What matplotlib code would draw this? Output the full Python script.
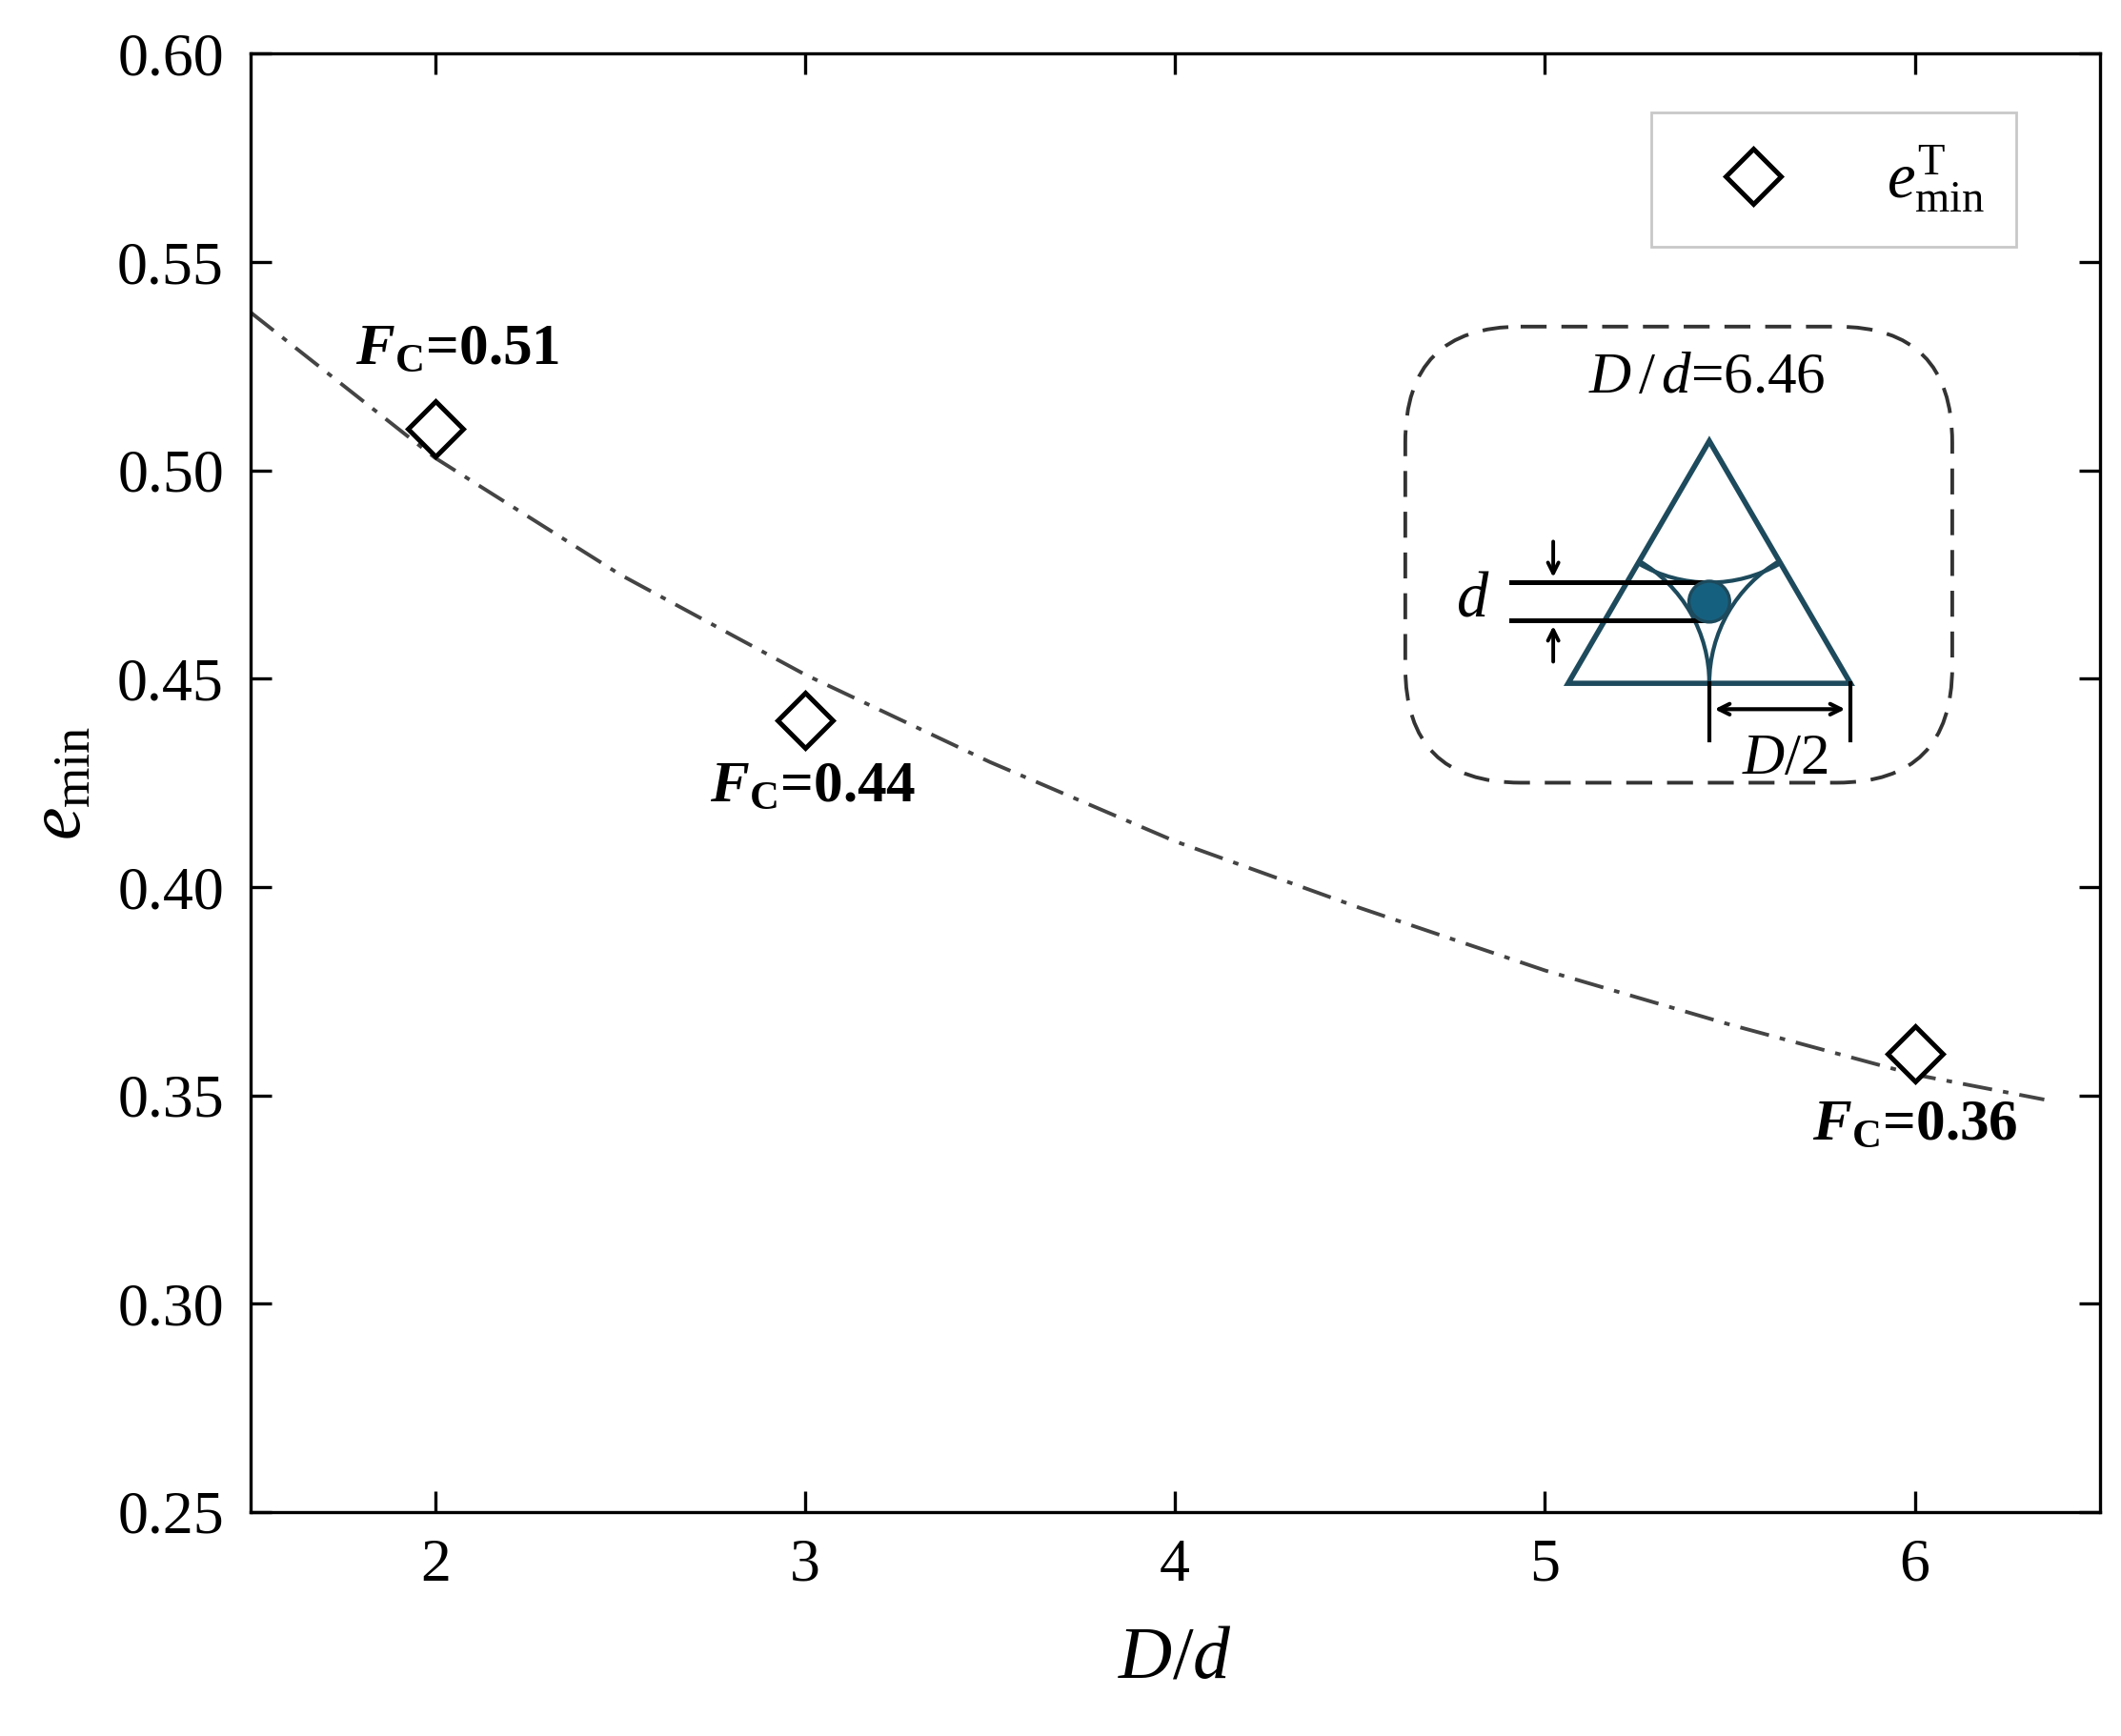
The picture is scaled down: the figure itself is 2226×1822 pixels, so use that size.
import numpy as np
import matplotlib
matplotlib.use('Agg')
import matplotlib.pyplot as plt
from matplotlib.patches import FancyBboxPatch, Polygon, Circle, Arc

plt.rcParams['font.family'] = ['Liberation Serif', 'DejaVu Serif']
plt.rcParams['mathtext.fontset'] = 'custom'
plt.rcParams['mathtext.rm'] = 'Liberation Serif'
plt.rcParams['mathtext.it'] = 'Liberation Serif:italic'
plt.rcParams['mathtext.bf'] = 'Liberation Serif:bold'
plt.rcParams['mathtext.bfit'] = 'Liberation Serif:italic:bold'

# data
pts_x = [2, 3, 6]
pts_y = [0.51, 0.44, 0.36]
fc_labels = ['0.51', '0.44', '0.36']
fc_pos = [(2.06, 0.529), (3.02, 0.424), (6.0, 0.343)]
fit_x = [1.5, 2.0, 2.5, 3.0, 3.5, 4.0, 4.5, 5.0, 5.5, 6.0, 6.35]
fit_y = [0.538, 0.503, 0.475, 0.451, 0.430, 0.411, 0.395, 0.380, 0.367, 0.355, 0.349]
xticks = [2, 3, 4, 5, 6]
yticks = [0.25, 0.30, 0.35, 0.40, 0.45, 0.50, 0.55, 0.60]

fig = plt.figure(figsize=(11.13, 9.11), dpi=200)
ax = fig.add_axes([0.118, 0.129, 0.872, 0.840])

ax.plot(fit_x, fit_y, color='#444444', lw=1.4, ls=(0, (8, 3, 1.5, 3)))
ax.plot(pts_x, pts_y, ls='none', marker='D', ms=15, mfc='white', mec='black',
        mew=1.8, label=r'$e_{\mathrm{min}}^{\mathrm{T}}$')
for (tx, ty), lab in zip(fc_pos, fc_labels):
    ax.text(tx, ty, r'$\mathbfit{F}_{\mathbf{C}}$' + '=' + lab, ha='center', va='center',
            fontsize=22, fontweight='bold')

ax.set_xlim(1.5, 6.5)
ax.set_ylim(0.25, 0.60)
ax.set_xticks(xticks)
ax.set_yticks(yticks)
ax.set_yticklabels([f'{v:.2f}' for v in yticks])
ax.tick_params(direction='in', length=8, width=1.2, labelsize=23, top=True, right=True,
               pad=10)
for s in ax.spines.values():
    s.set_linewidth(1.2)
ax.set_xlabel(r'$D/d$', fontsize=28, labelpad=12)
ax.set_ylabel(r'$e_{\mathrm{min}}$', fontsize=28, labelpad=8)
leg = ax.legend(loc='upper right', bbox_to_anchor=(0.955, 0.96), fontsize=24,
                fancybox=False, edgecolor='#bbbbbb', borderpad=0.5, handletextpad=1.0,
                handlelength=2.2, borderaxespad=0, markerscale=1.0)
leg.get_frame().set_linewidth(1.0)

# inset sketch (box-relative pixel coordinates, y downward)
ins = fig.add_axes([0.660, 0.546, 0.263, 0.269])
ins.set_xlim(0, 411)
ins.set_ylim(343, 0)
ins.set_aspect('equal', adjustable='datalim')
ins.axis('off')
teal = '#1d4a5c'
ins.add_patch(FancyBboxPatch((4, 4), 403, 335, boxstyle='round,pad=0,rounding_size=85',
                             fill=False, ls=(0, (7, 4)), lw=1.4, ec='#333333'))
A, B, C = (228, 88), (124, 266), (332, 266)
ins.add_patch(Polygon([A, B, C], closed=True, fill=False, ec=teal, lw=2.0))
r = 104
ins.add_patch(Arc(A, 2 * r, 2 * r, theta1=60, theta2=120, ec=teal, lw=1.5))
ins.add_patch(Arc(B, 2 * r, 2 * r, theta1=300, theta2=360, ec=teal, lw=1.5))
ins.add_patch(Arc(C, 2 * r, 2 * r, theta1=180, theta2=240, ec=teal, lw=1.5))
ins.add_patch(Circle((228, 206), 15, fc='#16607f', ec=teal, lw=1.2, zorder=5))
ins.plot([82, 228], [192, 192], color='black', lw=1.8)
ins.plot([82, 228], [220, 220], color='black', lw=1.8)
ins.annotate('', xy=(113, 192), xytext=(113, 158),
             arrowprops=dict(arrowstyle='->', lw=1.4, color='black'))
ins.annotate('', xy=(113, 220), xytext=(113, 254),
             arrowprops=dict(arrowstyle='->', lw=1.4, color='black'))
ins.text(54, 205, r'$d$', fontsize=24, ha='center', va='center')
ins.plot([228, 228], [266, 308], color='black', lw=1.5)
ins.plot([332, 332], [266, 308], color='black', lw=1.5)
ins.annotate('', xy=(228, 285), xytext=(332, 285),
             arrowprops=dict(arrowstyle='<->', lw=1.5, color='black'))
ins.text(284, 322, r'$D/2$', fontsize=22, ha='center', va='center')
ins.text(226, 42, r'$D\,/\,d$' + '=6.46', fontsize=22, ha='center', va='center')

fig.savefig('out.png', dpi=200)
